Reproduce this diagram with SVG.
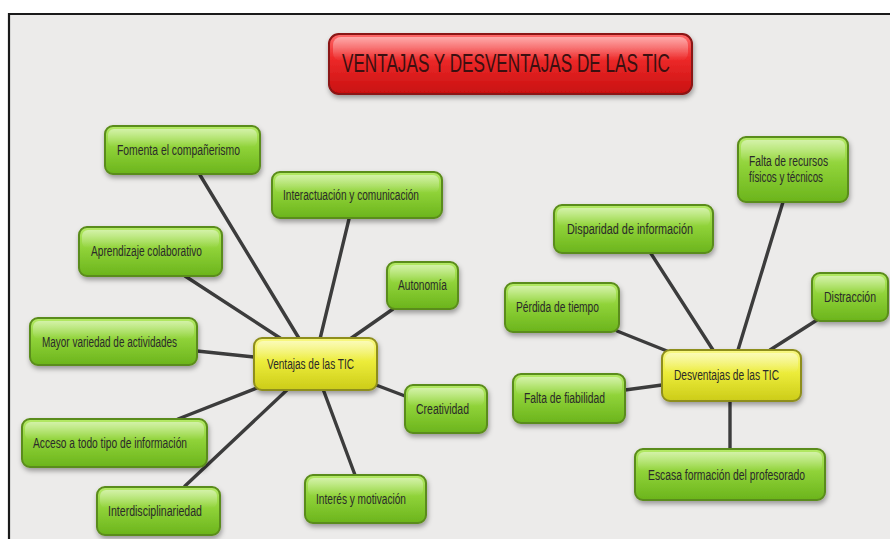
<svg xmlns="http://www.w3.org/2000/svg" width="890" height="539" viewBox="0 0 890 539">
<defs>
<linearGradient id="gGreen" x1="0" y1="0" x2="0" y2="1">
<stop offset="0" stop-color="#b4ea66"/>
<stop offset="0.45" stop-color="#8fd238"/>
<stop offset="1" stop-color="#6bb41c"/>
</linearGradient>
<linearGradient id="gYellow" x1="0" y1="0" x2="0" y2="1">
<stop offset="0" stop-color="#f8f884"/>
<stop offset="0.45" stop-color="#ecec3a"/>
<stop offset="1" stop-color="#cccc18"/>
</linearGradient>
<linearGradient id="gRed" x1="0" y1="0" x2="0" y2="1">
<stop offset="0" stop-color="#ff6a6a"/>
<stop offset="0.4" stop-color="#ee2a2a"/>
<stop offset="1" stop-color="#c81010"/>
</linearGradient>
<linearGradient id="gGloss" x1="0" y1="0" x2="0" y2="1">
<stop offset="0" stop-color="#ffffff" stop-opacity="0.45"/>
<stop offset="1" stop-color="#ffffff" stop-opacity="0"/>
</linearGradient>
<filter id="sh" x="-20%" y="-30%" width="140%" height="170%">
<feDropShadow dx="1" dy="3" stdDeviation="2.5" flood-color="#000" flood-opacity="0.35"/>
</filter>
</defs>
<style>
.g{fill:url(#gGreen);stroke:#5a8c1a;stroke-width:2;filter:url(#sh)}
.y{fill:url(#gYellow);stroke:#8e8e1c;stroke-width:2;filter:url(#sh)}
.r{fill:url(#gRed);stroke:#8a1212;stroke-width:2;filter:url(#sh)}
.gl{fill:url(#gGloss);stroke:none}
.t{font-family:"Liberation Sans",Arial,sans-serif;font-size:14px;fill:#2a2a2a}
.tt{font-family:"Liberation Sans",Arial,sans-serif;font-size:25px;fill:#3a1010}
.c line{stroke:#3c3c3c;stroke-width:3.4;stroke-linecap:round}
</style>
<rect x="0" y="0" width="890" height="539" fill="#ffffff"/>
<rect x="9" y="14" width="881" height="525" fill="#ecebea"/>
<path d="M9 539 V14 H890" fill="none" stroke="#1a1a1a" stroke-width="2.2"/>

<g id="connectors" class="c">
<line x1="200" y1="175" x2="300" y2="340"/>
<line x1="349" y1="219" x2="320" y2="339"/>
<line x1="185" y1="276" x2="280" y2="338"/>
<line x1="393" y1="309" x2="350" y2="339"/>
<line x1="197" y1="351" x2="254" y2="357"/>
<line x1="376" y1="385" x2="405" y2="396"/>
<line x1="178" y1="419" x2="257" y2="388"/>
<line x1="185" y1="486" x2="288" y2="389"/>
<line x1="355" y1="475" x2="323" y2="389"/>
<line x1="783" y1="202" x2="738" y2="350"/>
<line x1="650" y1="252" x2="713" y2="350"/>
<line x1="617" y1="331" x2="667" y2="351"/>
<line x1="817" y1="320" x2="770" y2="350"/>
<line x1="625" y1="390" x2="662" y2="385"/>
<line x1="730" y1="401" x2="730" y2="449"/>
</g>

<g id="title">
<rect class="r" x="329" y="34" width="363" height="60" rx="10"/>
<rect class="gl" x="333" y="37" width="355" height="24" rx="8"/>
<text class="tt" x="342" y="72" textLength="328" lengthAdjust="spacingAndGlyphs">VENTAJAS Y DESVENTAJAS DE LAS TIC</text>
</g>

<g id="ventajas">
<rect class="y" x="254" y="338" width="123" height="52" rx="8"/>
<rect class="gl" x="257" y="341" width="117" height="20" rx="6"/>
<text class="t" x="267" y="369" textLength="87" lengthAdjust="spacingAndGlyphs">Ventajas de las TIC</text>
</g>

<g id="fomenta">
<rect class="g" x="105" y="126" width="155" height="48" rx="8"/>
<rect class="gl" x="108" y="129" width="149" height="18" rx="6"/>
<text class="t" x="117" y="155" textLength="123" lengthAdjust="spacingAndGlyphs">Fomenta el compañerismo</text>
</g>

<g id="interactuacion">
<rect class="g" x="272" y="172" width="170" height="46" rx="8"/>
<rect class="gl" x="275" y="175" width="164" height="18" rx="6"/>
<text class="t" x="283" y="200" textLength="136" lengthAdjust="spacingAndGlyphs">Interactuación y comunicación</text>
</g>

<g id="aprendizaje">
<rect class="g" x="79" y="227" width="143" height="49" rx="8"/>
<rect class="gl" x="82" y="230" width="137" height="18" rx="6"/>
<text class="t" x="91" y="256" textLength="111" lengthAdjust="spacingAndGlyphs">Aprendizaje colaborativo</text>
</g>

<g id="autonomia">
<rect class="g" x="387" y="262" width="71" height="47" rx="8"/>
<rect class="gl" x="390" y="265" width="65" height="18" rx="6"/>
<text class="t" x="398" y="290" textLength="49" lengthAdjust="spacingAndGlyphs">Autonomía</text>
</g>

<g id="mayor">
<rect class="g" x="30" y="318" width="167" height="47" rx="8"/>
<rect class="gl" x="33" y="321" width="161" height="18" rx="6"/>
<text class="t" x="42" y="347" textLength="135" lengthAdjust="spacingAndGlyphs">Mayor variedad de actividades</text>
</g>

<g id="creatividad">
<rect class="g" x="405" y="385" width="82" height="48" rx="8"/>
<rect class="gl" x="408" y="388" width="76" height="18" rx="6"/>
<text class="t" x="416" y="414" textLength="53" lengthAdjust="spacingAndGlyphs">Creatividad</text>
</g>

<g id="acceso">
<rect class="g" x="22" y="419" width="185" height="48" rx="8"/>
<rect class="gl" x="25" y="422" width="179" height="18" rx="6"/>
<text class="t" x="33" y="448" textLength="154" lengthAdjust="spacingAndGlyphs">Acceso a todo tipo de información</text>
</g>

<g id="interdisciplinariedad">
<rect class="g" x="97" y="487" width="123" height="48" rx="8"/>
<rect class="gl" x="100" y="490" width="117" height="18" rx="6"/>
<text class="t" x="108" y="516" textLength="94" lengthAdjust="spacingAndGlyphs">Interdisciplinariedad</text>
</g>

<g id="interes">
<rect class="g" x="305" y="475" width="121" height="48" rx="8"/>
<rect class="gl" x="308" y="478" width="115" height="18" rx="6"/>
<text class="t" x="316" y="504" textLength="90" lengthAdjust="spacingAndGlyphs">Interés y motivación</text>
</g>

<g id="desventajas">
<rect class="y" x="662" y="350" width="139" height="51" rx="8"/>
<rect class="gl" x="665" y="353" width="133" height="20" rx="6"/>
<text class="t" x="674" y="380" textLength="105" lengthAdjust="spacingAndGlyphs">Desventajas de las TIC</text>
</g>

<g id="falta-recursos">
<rect class="g" x="738" y="137" width="110" height="65" rx="8"/>
<rect class="gl" x="741" y="140" width="104" height="22" rx="6"/>
<text class="t" x="749" y="166" textLength="79" lengthAdjust="spacingAndGlyphs">Falta de recursos</text>
<text class="t" x="749" y="182" textLength="74" lengthAdjust="spacingAndGlyphs">físicos y técnicos</text>
</g>

<g id="disparidad">
<rect class="g" x="554" y="205" width="159" height="48" rx="8"/>
<rect class="gl" x="557" y="208" width="153" height="18" rx="6"/>
<text class="t" x="567" y="234" textLength="126" lengthAdjust="spacingAndGlyphs">Disparidad de información</text>
</g>

<g id="perdida">
<rect class="g" x="505" y="283" width="114" height="49" rx="8"/>
<rect class="gl" x="508" y="286" width="108" height="18" rx="6"/>
<text class="t" x="516" y="312" textLength="83" lengthAdjust="spacingAndGlyphs">Pérdida de tiempo</text>
</g>

<g id="distraccion">
<rect class="g" x="812" y="273" width="76" height="48" rx="8"/>
<rect class="gl" x="815" y="276" width="70" height="18" rx="6"/>
<text class="t" x="824" y="302" textLength="52" lengthAdjust="spacingAndGlyphs">Distracción</text>
</g>

<g id="fiabilidad">
<rect class="g" x="513" y="374" width="112" height="49" rx="8"/>
<rect class="gl" x="516" y="377" width="106" height="18" rx="6"/>
<text class="t" x="524" y="403" textLength="81" lengthAdjust="spacingAndGlyphs">Falta de fiabilidad</text>
</g>

<g id="escasa">
<rect class="g" x="635" y="449" width="190" height="51" rx="8"/>
<rect class="gl" x="638" y="452" width="184" height="19" rx="6"/>
<text class="t" x="648" y="480" textLength="157" lengthAdjust="spacingAndGlyphs">Escasa formación del profesorado</text>
</g>
</svg>
